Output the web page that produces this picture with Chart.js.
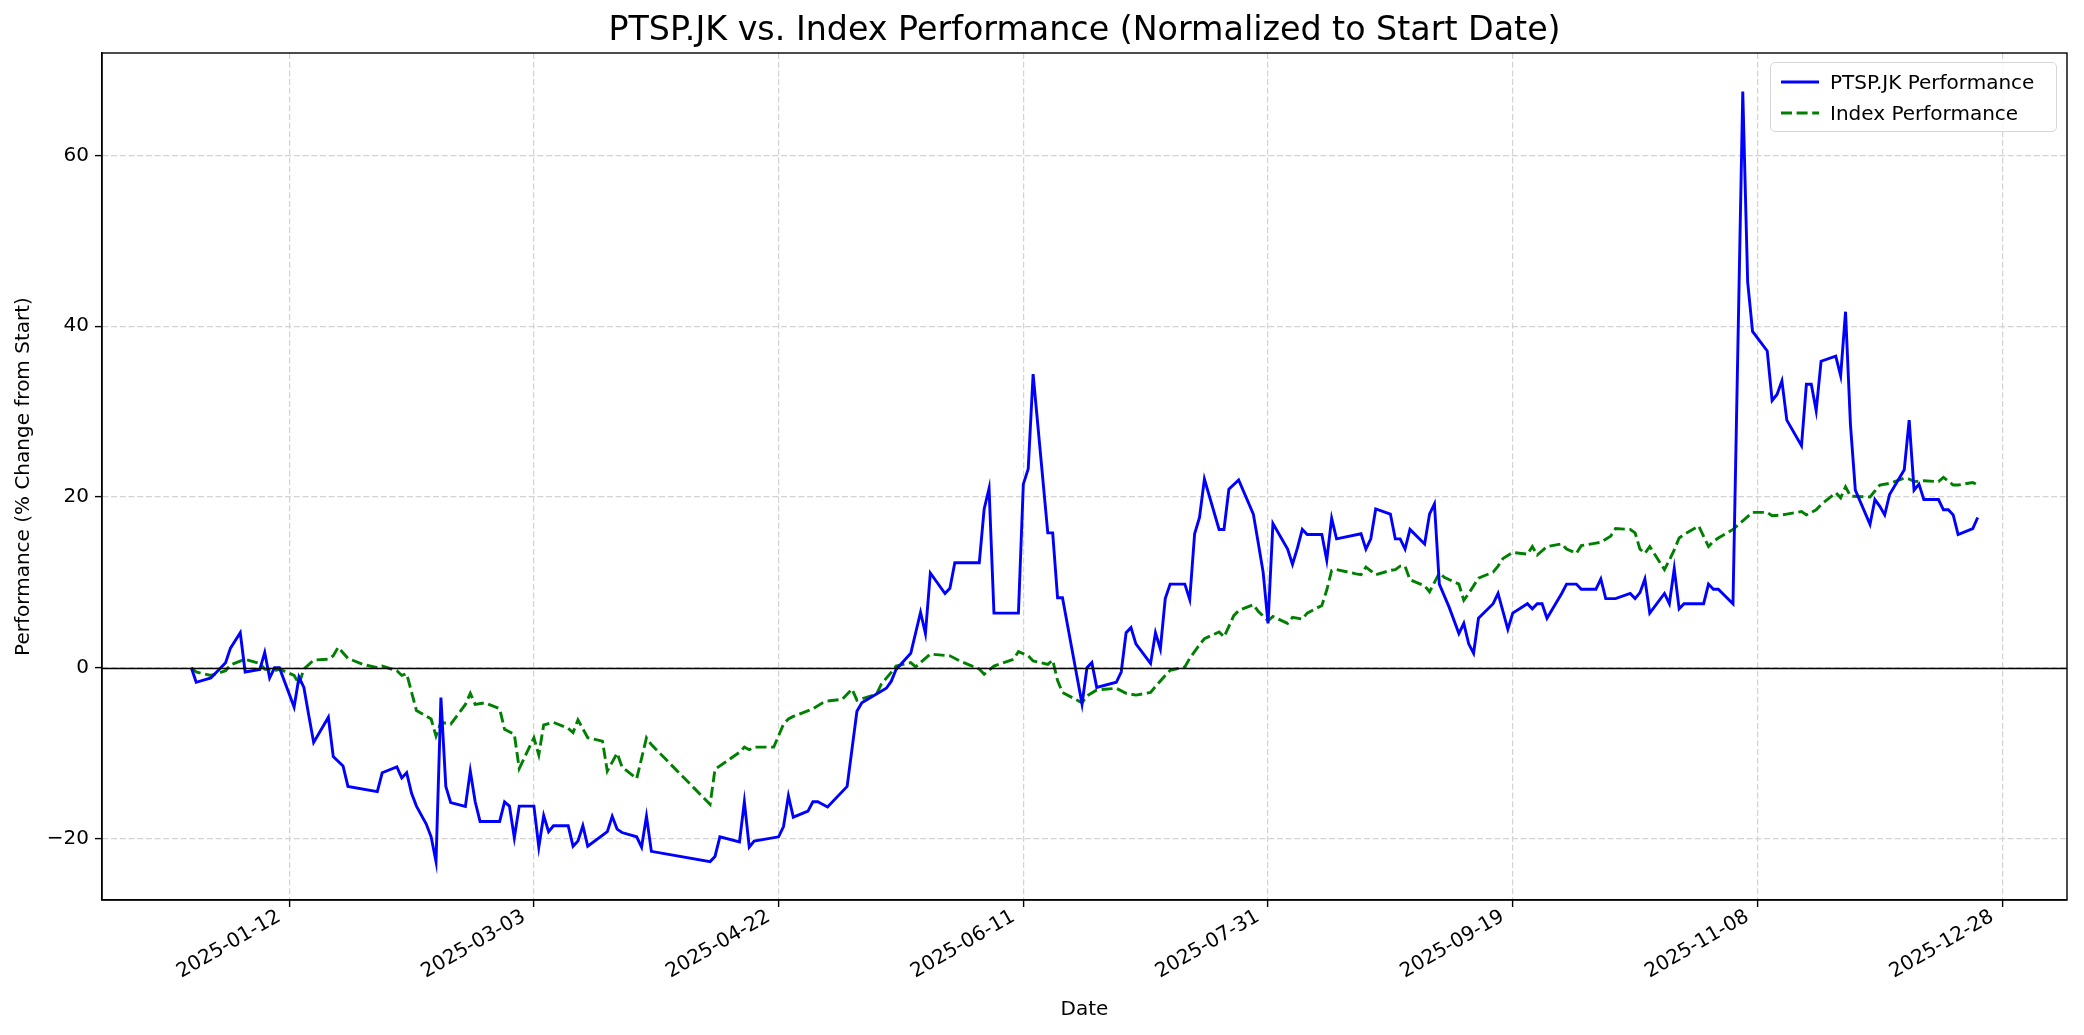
<!DOCTYPE html>
<html lang="en">
<head>
<meta charset="UTF-8" />
<title>PTSP.JK vs. Index Performance</title>
<script src="https://cdn.jsdelivr.net/npm/chart.js"></script>
<style>
  html, body { margin: 0; padding: 0; background: #fff; }
  #wrap { position: relative; width: 2084px; height: 1035px; }
  #legend {
    position: absolute;
    width: 287px;
    height: 70px;
    box-sizing: border-box;
    border: 1.4px solid #d6d6d6;
    border-radius: 5px;
    background: rgba(255,255,255,0.8);
    font-family: 'DejaVu Sans', sans-serif;
    font-size: 20px;
    color: #000;
  }
  .row { position: absolute; left: 10px; height: 24px; display: flex; align-items: center; white-space: nowrap; }
  .row svg { margin-right: 11px; }
</style>
</head>
<body>
<div id="wrap">
  <canvas id="perfChart" width="2084" height="1035"></canvas>
  <div id="legend">
    <div class="row" style="top:7px">
      <svg width="38" height="6"><line x1="0" y1="3" x2="38" y2="3" stroke="#0000ff" stroke-width="2.9"/></svg>
      <span>PTSP.JK Performance</span>
    </div>
    <div class="row" style="top:38px">
      <svg width="38" height="6"><line x1="0" y1="3" x2="38" y2="3" stroke="#008000" stroke-width="2.9" stroke-dasharray="11 4.6"/></svg>
      <span>Index Performance</span>
    </div>
  </div>
</div>

<script>
// PTSP.JK, % change from first close
const ptspDates = [
  '2024-12-23','2024-12-24','2024-12-27','2024-12-30','2024-12-31','2025-01-02','2025-01-03','2025-01-06','2025-01-07','2025-01-08',
  '2025-01-09','2025-01-10','2025-01-13','2025-01-14','2025-01-15','2025-01-16','2025-01-17','2025-01-20','2025-01-21','2025-01-23',
  '2025-01-24','2025-01-30','2025-01-31','2025-02-03','2025-02-04','2025-02-05','2025-02-06','2025-02-07','2025-02-09','2025-02-10',
  '2025-02-11','2025-02-12','2025-02-13','2025-02-14','2025-02-17','2025-02-18','2025-02-19','2025-02-20','2025-02-24','2025-02-25',
  '2025-02-26','2025-02-27','2025-02-28','2025-03-03','2025-03-04','2025-03-05','2025-03-06','2025-03-07','2025-03-10','2025-03-11',
  '2025-03-12','2025-03-13','2025-03-14','2025-03-18','2025-03-19','2025-03-20','2025-03-21','2025-03-24','2025-03-25','2025-03-26',
  '2025-03-27','2025-04-08','2025-04-09','2025-04-10','2025-04-14','2025-04-15','2025-04-16','2025-04-17','2025-04-22','2025-04-23',
  '2025-04-24','2025-04-25','2025-04-28','2025-04-29','2025-04-30','2025-05-02','2025-05-06','2025-05-08','2025-05-09','2025-05-14',
  '2025-05-15','2025-05-16','2025-05-19','2025-05-21','2025-05-22','2025-05-23','2025-05-26','2025-05-27','2025-05-28','2025-06-02',
  '2025-06-03','2025-06-04','2025-06-05','2025-06-10','2025-06-11','2025-06-12','2025-06-13','2025-06-16','2025-06-17','2025-06-18',
  '2025-06-19','2025-06-23','2025-06-24','2025-06-25','2025-06-26','2025-06-30','2025-07-01','2025-07-02','2025-07-03','2025-07-04',
  '2025-07-07','2025-07-08','2025-07-09','2025-07-10','2025-07-11','2025-07-14','2025-07-15','2025-07-16','2025-07-17','2025-07-18',
  '2025-07-21','2025-07-22','2025-07-23','2025-07-25','2025-07-28','2025-07-29','2025-07-30','2025-07-31','2025-08-01','2025-08-04',
  '2025-08-05','2025-08-06','2025-08-07','2025-08-08','2025-08-11','2025-08-12','2025-08-13','2025-08-14','2025-08-19','2025-08-20',
  '2025-08-21','2025-08-22','2025-08-25','2025-08-26','2025-08-27','2025-08-28','2025-08-29','2025-09-01','2025-09-02','2025-09-03',
  '2025-09-04','2025-09-06','2025-09-08','2025-09-09','2025-09-10','2025-09-11','2025-09-12','2025-09-15','2025-09-16','2025-09-17',
  '2025-09-18','2025-09-19','2025-09-22','2025-09-23','2025-09-24','2025-09-25','2025-09-26','2025-09-29','2025-09-30','2025-10-02',
  '2025-10-03','2025-10-06','2025-10-07','2025-10-08','2025-10-10','2025-10-13','2025-10-14','2025-10-15','2025-10-16','2025-10-17',
  '2025-10-20','2025-10-21','2025-10-22','2025-10-23','2025-10-24','2025-10-28','2025-10-29','2025-10-30','2025-10-31','2025-11-03',
  '2025-11-05','2025-11-06','2025-11-07','2025-11-10','2025-11-11','2025-11-12','2025-11-13','2025-11-14','2025-11-17','2025-11-18',
  '2025-11-19','2025-11-20','2025-11-21','2025-11-24','2025-11-25','2025-11-26','2025-11-27','2025-11-28','2025-12-01','2025-12-02',
  '2025-12-03','2025-12-04','2025-12-05','2025-12-08','2025-12-09','2025-12-10','2025-12-11','2025-12-12','2025-12-15','2025-12-16',
  '2025-12-17','2025-12-18','2025-12-19','2025-12-22','2025-12-23'
];
const ptspValues = [
  0, -1.7, -1.2, 0.6, 2.3, 4.1, -0.5, -0.2, 1.8, -1.2,
  0, 0, -4.6, -1.1, -2.3, -5.6, -8.75, -5.8, -10.4, -11.5,
  -13.9, -14.5, -12.3, -11.6, -12.9, -12.3, -14.7, -16.2, -18.3, -19.8,
  -22.7, -3.5, -13.9, -15.8, -16.25, -12.1, -15.7, -18, -18, -15.7,
  -16.2, -19.9, -16.2, -16.2, -21, -17.3, -19.2, -18.5, -18.5, -20.9,
  -20.3, -18.5, -20.9, -19.2, -17.4, -18.9, -19.3, -19.8, -21, -17.4,
  -21.5, -22.7, -22.1, -19.8, -20.4, -15.7, -21, -20.3, -19.8, -18.6,
  -15, -17.5, -16.8, -15.7, -15.7, -16.3, -13.9, -5.1, -4.1, -2.4,
  -1.6, -0.2, 1.7, 6.5, 4, 11.1, 8.7, 9.3, 12.3, 12.3,
  18.6, 21, 6.4, 6.4, 21.5, 23.3, 34.4, 15.8, 15.8, 8.2,
  8.2, -4.25, 0, 0.6, -2.3, -1.7, -0.5, 4.1, 4.7, 2.8,
  0.5, 4.1, 2.2, 8.1, 9.8, 9.8, 8, 15.7, 17.6, 22.1,
  16.2, 16.2, 20.9, 22, 18, 14.6, 11.2, 5.2, 16.9, 13.9,
  12.1, 14, 16.2, 15.6, 15.6, 12.6, 17.5, 15.1, 15.7, 13.9,
  15.1, 18.6, 18, 15.1, 15.1, 13.9, 16.2, 14.5, 18, 19.2,
  9.8, 7.1, 4, 5.2, 2.8, 1.7, 5.8, 7.5, 8.7, 6.6,
  4.5, 6.4, 7.5, 6.9, 7.5, 7.5, 5.8, 8.7, 9.8, 9.8,
  9.2, 9.2, 10.4, 8.1, 8.1, 8.7, 8.1, 8.8, 10.4, 6.4,
  8.7, 7.5, 11.6, 6.9, 7.5, 7.5, 9.8, 9.2, 9.2, 7.5,
  67.5, 45.2, 39.4, 37.1, 31.3, 32, 33.6, 29, 26, 33.2,
  33.2, 30.1, 35.9, 36.5, 34.2, 41.7, 28.5, 20.8, 16.8, 19.7,
  18.9, 17.9, 20.3, 23.2, 29, 20.8, 21.5, 19.7, 19.7, 18.5,
  18.5, 17.9, 15.6, 16.3, 17.6
];

// index, % change from first close
const indexDates = [
  '2024-12-23','2024-12-24','2024-12-27','2024-12-30','2024-12-31','2025-01-03','2025-01-06','2025-01-07','2025-01-09','2025-01-10',
  '2025-01-13','2025-01-14','2025-01-15','2025-01-17','2025-01-20','2025-01-21','2025-01-22','2025-01-24','2025-01-27','2025-01-30',
  '2025-01-31','2025-02-03','2025-02-04','2025-02-05','2025-02-07','2025-02-10','2025-02-11','2025-02-12','2025-02-14','2025-02-17',
  '2025-02-18','2025-02-19','2025-02-21','2025-02-24','2025-02-25','2025-02-27','2025-02-28','2025-03-03','2025-03-04','2025-03-05',
  '2025-03-07','2025-03-10','2025-03-11','2025-03-12','2025-03-14','2025-03-17','2025-03-18','2025-03-20','2025-03-21','2025-03-24',
  '2025-03-26','2025-03-27','2025-04-08','2025-04-09','2025-04-11','2025-04-14','2025-04-15','2025-04-16','2025-04-17','2025-04-21',
  '2025-04-23','2025-04-24','2025-04-25','2025-04-29','2025-05-01','2025-05-02','2025-05-05','2025-05-07','2025-05-08','2025-05-12',
  '2025-05-13','2025-05-15','2025-05-16','2025-05-19','2025-05-20','2025-05-21','2025-05-23','2025-05-27','2025-05-29','2025-06-02',
  '2025-06-03','2025-06-05','2025-06-09','2025-06-10','2025-06-12','2025-06-13','2025-06-16','2025-06-17','2025-06-18','2025-06-19',
  '2025-06-23','2025-06-24','2025-06-26','2025-06-30','2025-07-02','2025-07-04','2025-07-07','2025-07-08','2025-07-10','2025-07-11',
  '2025-07-14','2025-07-15','2025-07-17','2025-07-18','2025-07-21','2025-07-22','2025-07-24','2025-07-25','2025-07-28','2025-07-29',
  '2025-07-31','2025-08-01','2025-08-04','2025-08-05','2025-08-07','2025-08-08','2025-08-11','2025-08-12','2025-08-13','2025-08-14',
  '2025-08-18','2025-08-19','2025-08-20','2025-08-22','2025-08-25','2025-08-26','2025-08-27','2025-08-28','2025-08-29','2025-09-01',
  '2025-09-02','2025-09-04','2025-09-05','2025-09-08','2025-09-09','2025-09-10','2025-09-12','2025-09-15','2025-09-16','2025-09-17',
  '2025-09-19','2025-09-22','2025-09-23','2025-09-24','2025-09-26','2025-09-29','2025-09-30','2025-10-02','2025-10-03','2025-10-06',
  '2025-10-07','2025-10-09','2025-10-10','2025-10-13','2025-10-14','2025-10-15','2025-10-16','2025-10-17','2025-10-20','2025-10-21',
  '2025-10-22','2025-10-23','2025-10-24','2025-10-27','2025-10-28','2025-10-29','2025-10-30','2025-10-31','2025-11-03','2025-11-05',
  '2025-11-07','2025-11-10','2025-11-11','2025-11-13','2025-11-14','2025-11-17','2025-11-18','2025-11-20','2025-11-21','2025-11-24',
  '2025-11-25','2025-11-26','2025-11-27','2025-12-01','2025-12-02','2025-12-03','2025-12-05','2025-12-08','2025-12-09','2025-12-10',
  '2025-12-12','2025-12-15','2025-12-16','2025-12-18','2025-12-19','2025-12-22','2025-12-23'
];
const indexValues = [
  0, -0.5, -0.9, -0.35, 0.35, 1.0, 0.5, -0.15, -0.35, -0.15,
  -0.9, -1.9, -0.15, 0.9, 1.0, 1.4, 2.4, 1.1, 0.4, 0,
  0.2, -0.35, -0.9, -0.7, -5, -6, -8, -6.4, -6.6, -4.3,
  -3, -4.3, -4.1, -4.8, -7.2, -7.8, -11.8, -8.2, -10.2, -6.7,
  -6.4, -7.1, -7.6, -6.1, -8.2, -8.6, -12.1, -10, -11.6, -13,
  -8.2, -9, -16, -11.9, -11.1, -9.9, -9.3, -9.6, -9.3, -9.3,
  -6.6, -6, -5.7, -4.8, -4.1, -3.9, -3.7, -2.5, -3.8, -3.1,
  -1.9, -0.55, 0.2, 0.6, 0.1, 0.6, 1.6, 1.4, 0.8, -0.15,
  -0.75, 0.2, 1.0, 1.9, 1.4, 0.8, 0.4, 0.9, -1.5, -2.9,
  -4.1, -3.3, -2.6, -2.4, -3, -3.2, -2.9, -2.2, -0.9, -0.3,
  0.1, 1.1, 2.7, 3.4, 4.2, 3.6, 6.1, 6.7, 7.4, 6.6,
  5.5, 6, 5.2, 5.9, 5.7, 6.4, 7.3, 9.1, 11.4, 11.5,
  11, 10.9, 11.8, 10.9, 11.4, 11.5, 11.9, 11.9, 10.3, 9.6,
  8.9, 11.1, 10.6, 9.8, 7.9, 8.7, 10.5, 11.2, 11.9, 12.8,
  13.5, 13.3, 14.2, 13.2, 14.2, 14.5, 13.9, 13.4, 14.3, 14.6,
  14.7, 15.4, 16.3, 16.2, 15.8, 13.9, 13.4, 14.2, 11.5, 12.6,
  13.8, 15.2, 15.6, 16.6, 15.4, 14.2, 14.8, 15.2, 16.2, 17.2,
  18.2, 18.2, 17.8, 17.9, 18, 18.3, 17.9, 18.5, 19.1, 20.5,
  19.9, 21.2, 20.1, 20, 20.7, 21.4, 21.6, 22.2, 22.1, 21.8,
  21.9, 21.8, 22.3, 21.4, 21.4, 21.7, 21.4
];

const xTickDates = ['2025-01-12','2025-03-03','2025-04-22','2025-06-11','2025-07-31','2025-09-19','2025-11-08','2025-12-28'];
const yTickValues = [-20, 0, 20, 40, 60];

const FONT = "'DejaVu Sans', sans-serif";
const TXT = 20;
const DAY = 86400000;
const toDay = s => Date.UTC(+s.slice(0, 4), +s.slice(5, 7) - 1, +s.slice(8, 10)) / DAY;
const fmtDay = v => new Date(Math.round(v) * DAY).toISOString().slice(0, 10);
const pairs = (dates, vals) => dates.map((d, i) => ({ x: toDay(d), y: vals[i] }));

const firstDay = toDay(ptspDates[0]);
const lastDay = toDay(ptspDates[ptspDates.length - 1]);
const pad = (lastDay - firstDay) * 0.05;

// zero line, full box and title
const framePlugin = {
  id: 'frame',
  afterDatasetsDraw(chart) {
    const { ctx, chartArea: a, scales } = chart;
    ctx.save();
    ctx.setLineDash([]);
    const y0 = Math.round(scales.y.getPixelForValue(0)) + 0.5;
    ctx.strokeStyle = '#000';
    ctx.lineWidth = 1.3;
    ctx.beginPath();
    ctx.moveTo(a.left, y0);
    ctx.lineTo(a.right, y0);
    ctx.stroke();
    ctx.lineWidth = 1.4;
    ctx.strokeRect(a.left, a.top, a.right - a.left, a.bottom - a.top);
    ctx.fillStyle = '#000';
    ctx.font = '33.3px ' + FONT;
    ctx.textAlign = 'center';
    ctx.textBaseline = 'middle';
    ctx.fillText('PTSP.JK vs. Index Performance (Normalized to Start Date)', (a.left + a.right) / 2, 31);
    ctx.restore();
  }
};

const gridOpts = {
  color: '#d3d3d3',
  lineWidth: 1.2,
  tickColor: '#000',
  tickLength: 7,
  tickWidth: 1.4,
  tickBorderDash: []
};

const chart = new Chart(document.getElementById('perfChart'), {
  type: 'line',
  data: {
    datasets: [
      {
        label: 'PTSP.JK Performance',
        data: pairs(ptspDates, ptspValues),
        borderColor: '#0000ff',
        borderWidth: 2.9,
        pointRadius: 0,
        tension: 0,
        fill: false
      },
      {
        label: 'Index Performance',
        data: pairs(indexDates, indexValues),
        borderColor: '#008000',
        borderWidth: 2.9,
        borderDash: [11, 4.6],
        pointRadius: 0,
        tension: 0,
        fill: false
      }
    ]
  },
  options: {
    responsive: false,
    animation: false,
    devicePixelRatio: 1,
    events: [],
    layout: { padding: { top: 53, right: 17, bottom: 0, left: 0 } },
    scales: {
      x: {
        type: 'linear',
        min: firstDay - pad,
        max: lastDay + pad,
        afterBuildTicks: s => { s.ticks = xTickDates.map(d => ({ value: toDay(d) })); },
        afterFit: s => { s.height = 135; },
        ticks: {
          autoSkip: false,
          minRotation: 30,
          maxRotation: 30,
          padding: -2,
          labelOffset: -10,
          color: '#000',
          font: { family: FONT, size: TXT },
          callback: v => fmtDay(v)
        },
        grid: gridOpts,
        border: { display: true, color: '#000', width: 1.4, dash: [6, 2.7] },
        title: {
          display: true,
          text: 'Date',
          color: '#000',
          font: { family: FONT, size: TXT },
          padding: { top: 0, bottom: 13 }
        }
      },
      y: {
        min: -27.2,
        max: 72,
        afterBuildTicks: s => { s.ticks = yTickValues.map(v => ({ value: v })); },
        afterFit: s => { s.width = 102; },
        ticks: {
          padding: 6,
          color: '#000',
          font: { family: FONT, size: TXT },
          callback: v => (v < 0 ? '\u2212' + Math.abs(v) : String(v))
        },
        grid: gridOpts,
        border: { display: true, color: '#000', width: 1.4, dash: [6, 2.7] },
        title: {
          display: true,
          text: 'Performance (% Change from Start)',
          color: '#000',
          font: { family: FONT, size: TXT },
          padding: { top: 12, bottom: 0 }
        }
      }
    },
    plugins: {
      legend: { display: false },
      title: { display: false },
      tooltip: { enabled: false }
    }
  },
  plugins: [framePlugin]
});

// legend sits in the upper right corner of the plot
const area = chart.chartArea;
const legend = document.getElementById('legend');
legend.style.left = (area.right - 10 - 287) + 'px';
legend.style.top = (area.top + 9) + 'px';
</script>
</body>
</html>
